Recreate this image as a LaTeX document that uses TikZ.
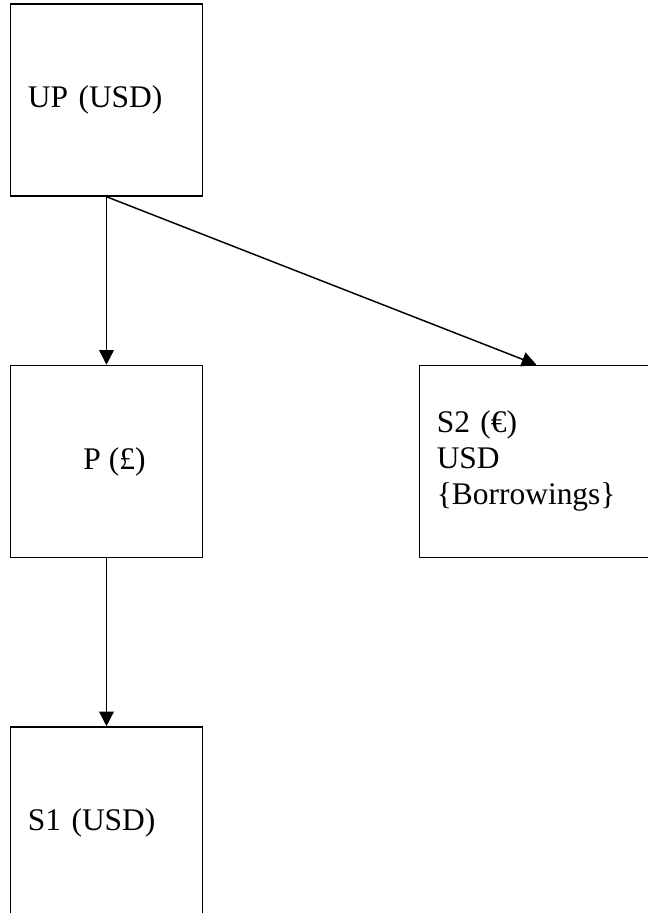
\documentclass[tikz,border=0pt]{standalone}
\usepackage{fontspec}
\setmainfont{Liberation Serif}
\usetikzlibrary{arrows.meta,positioning}

\begin{document}
\begin{tikzpicture}[x=0.75pt,y=-0.75pt]
  \useasboundingbox (0,0) rectangle (647,913);
  \tikzset{BoxStyle/.style = {draw=black, line width=1.1pt, shape=rectangle, minimum width=144pt, minimum height=144pt, inner xsep=13pt, text=black, font=\fontsize{23.6}{27}\selectfont}}
  \tikzset{EdgeStyle/.style   = {line width=1.1pt, -{Triangle[length=11pt,width=11pt]}, shorten <=0pt, shorten >=0pt}}

  \node(1)[BoxStyle, text width=118pt, align=left] at (106.5,100) {UP (USD)};
  \node(2)[BoxStyle, below=126pt of 1]{\hspace*{12pt}P (£)};
  \node(3)[BoxStyle, right=161.6pt of 2, minimum width=175.5pt, text width=149.5pt, align=left]{S2 (€)\\USD\\\{Borrowings\}};
  \node(4)[BoxStyle, below=126pt of 2, text width=118pt, align=left]{S1 (USD)};

     \draw[EdgeStyle](1) to (2);
     \draw[EdgeStyle](1.south) to (3.north);
     \draw[EdgeStyle](2) to (4);

\end{tikzpicture}
\end{document}
